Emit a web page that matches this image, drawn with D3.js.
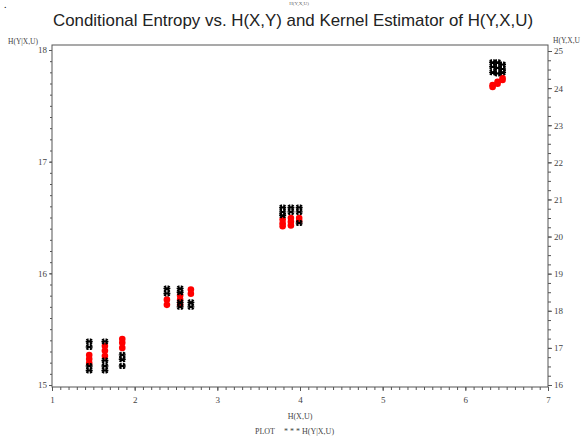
<!DOCTYPE html>
<html><head><meta charset="utf-8">
<script src="https://cdn.jsdelivr.net/npm/d3@7"></script>
<style>body{margin:0;background:#fff}svg{display:block}</style>
</head><body>
<svg id="c" width="586" height="439"></svg>
<script>
// x positions of each column
const colX = [1.45, 1.64, 1.85, 2.39, 2.55, 2.68, 3.79, 3.89, 3.99, 6.33, 6.39, 6.45];
// black points: H(Y|X,U) (left axis)
const blackVals = [
  [15.39, 15.34, 15.17, 15.13],
  [15.39, 15.22, 15.17, 15.13],
  [15.27, 15.23, 15.17],
  [15.865, 15.82],
  [15.865, 15.83, 15.74, 15.70],
  [15.74, 15.70],
  [16.59, 16.55, 16.52],
  [16.59, 16.55],
  [16.59, 16.55, 16.45],
  [17.89, 17.85, 17.80],
  [17.89, 17.84, 17.79],
  [17.87, 17.83, 17.80]
];
// red points: H(Y,X,U) kernel estimator (right axis)
const redVals = [
  [16.81, 16.70, 16.59],
  [17.05, 16.92, 16.78],
  [17.24, 17.14, 17.00],
  [18.30, 18.16],
  [18.41, 18.30, 18.16],
  [18.57, 18.46],
  [20.46, 20.36, 20.28],
  [20.50, 20.40, 20.30],
  [20.50, 20.42],
  [24.03, 24.08],
  [24.12, 24.17],
  [24.22, 24.27]
];
const xTicks = [1, 2, 3, 4, 5, 6, 7];
const yLeftTicks = [15, 16, 17, 18];
const yRightTicks = [16, 17, 18, 19, 20, 21, 22, 23, 24, 25];
const title = "Conditional Entropy vs. H(X,Y) and Kernel Estimator of H(Y,X,U)";

const svg = d3.select("#c");
const L = 52, R = 548, T = 45, B = 387;
const x = d3.scaleLinear().domain([1, 7]).range([L, R]);
const yL = d3.scaleLinear().domain([15, 18]).range([385, 50]);
const yR = d3.scaleLinear().domain([16, 25]).range([385, 51]);

const serif = "'Liberation Serif','DejaVu Serif',serif";
// tiny header text
svg.append("text").attr("x", 4).attr("y", 8).attr("font-size", 10).attr("font-family", serif).text(".");
svg.append("text").attr("x", 299).attr("y", 5).attr("text-anchor", "middle").attr("font-size", 5).attr("font-family", serif).attr("fill", "#666").text("H(Y,X,U)");
svg.append("text").attr("x", 293).attr("y", 26).attr("text-anchor", "middle")
  .attr("font-family", "'Liberation Sans',Arial,sans-serif").attr("font-size", 17).attr("fill", "#222")
  .attr("textLength", 480).attr("lengthAdjust", "spacingAndGlyphs").text(title);

// frame
svg.append("rect").attr("x", L).attr("y", T).attr("width", R - L).attr("height", B - T)
  .attr("fill", "none").attr("stroke", "#555").attr("stroke-width", 1);

const tickStyle = g => { g.select(".domain").remove(); g.selectAll("line").attr("stroke", "#555"); g.selectAll("text").attr("font-family", serif).attr("font-size", 9).attr("fill", "#444"); };

// bottom axis minor + major
svg.append("g").attr("transform", `translate(0,${B})`)
  .call(d3.axisBottom(x).tickValues(d3.range(10, 71).map(v => v / 10)).tickSize(3).tickFormat(""))
  .call(tickStyle);
svg.append("g").attr("transform", `translate(0,${B})`)
  .call(d3.axisBottom(x).tickValues(xTicks).tickSize(4).tickPadding(6).tickFormat(d3.format("d")))
  .call(tickStyle);

// left axis
svg.append("g").attr("transform", `translate(${L},0)`)
  .call(d3.axisLeft(yL).tickValues(d3.range(150, 181).map(v => v / 10)).tickSize(2).tickFormat(""))
  .call(tickStyle);
svg.append("g").attr("transform", `translate(${L},0)`)
  .call(d3.axisLeft(yL).tickValues(yLeftTicks).tickSize(3).tickPadding(2).tickFormat(d3.format("d")))
  .call(tickStyle);

// right axis
svg.append("g").attr("transform", `translate(${R},0)`)
  .call(d3.axisRight(yR).tickValues(d3.range(64, 101).map(v => v / 4)).tickSize(3).tickFormat(""))
  .call(tickStyle);
svg.append("g").attr("transform", `translate(${R},0)`)
  .call(d3.axisRight(yR).tickValues(yRightTicks).tickSize(4).tickPadding(2).tickFormat(d3.format("d")))
  .call(tickStyle);

// axis labels
svg.append("text").attr("x", 8).attr("y", 44).attr("font-family", serif).attr("font-size", 7.5).attr("fill", "#444").text("H(Y|X,U)");
svg.append("text").attr("x", 553).attr("y", 43).attr("font-family", serif).attr("font-size", 7.5).attr("fill", "#444").text("H(Y,X,U");
svg.append("text").attr("x", 300).attr("y", 419).attr("text-anchor", "middle").attr("font-family", serif).attr("font-size", 8).attr("fill", "#444").text("H(X,U)");
svg.append("text").attr("x", 255).attr("y", 434).attr("font-family", serif).attr("font-size", 8).attr("fill", "#444").text("PLOT");
svg.append("text").attr("x", 284).attr("y", 434).attr("font-family", serif).attr("font-size", 8).attr("fill", "#444").text("* * * H(Y|X,U)");

// red points (kernel estimator, right axis)
const redPts = redVals.flatMap((vs, i) => vs.map(v => ({ x: colX[i], v })));
svg.append("g").selectAll("circle").data(redPts).join("circle")
  .attr("cx", d => x(d.x)).attr("cy", d => yR(d.v)).attr("r", 3.3).attr("fill", "#f00");

// black star points (left axis)
const blackPts = blackVals.flatMap((vs, i) => vs.map(v => ({ x: colX[i], v })));
const star = "M-3.5,0H3.5M-1.3,-3V3M1.3,-3V3M-3,-2.2L3,2.2M-3,2.2L3,-2.2";
svg.append("g").selectAll("path").data(blackPts).join("path")
  .attr("transform", d => `translate(${x(d.x)},${yL(d.v)})`)
  .attr("d", star).attr("stroke", "#000").attr("stroke-width", 1.4).attr("fill", "none");
</script>
</body></html>
